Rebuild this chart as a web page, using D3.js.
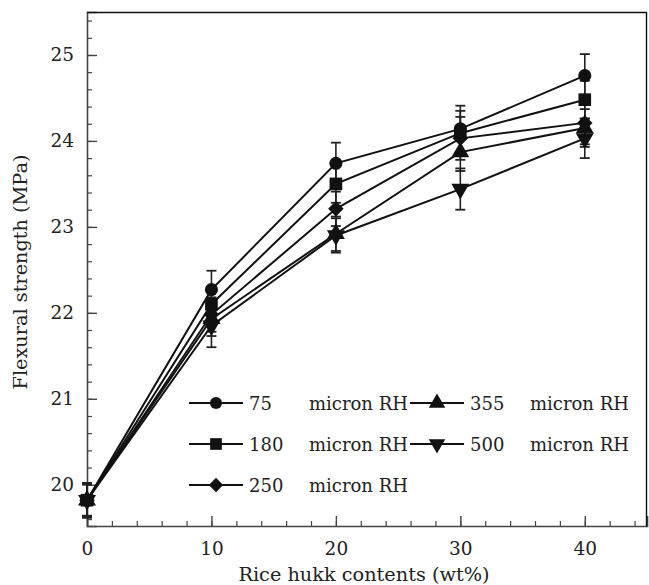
<!DOCTYPE html>
<html>
<head>
<meta charset="utf-8">
<script src="https://cdn.jsdelivr.net/npm/d3@7"></script>
<style>
  body { margin: 0; background: #fff; }
  text { font-family: "DejaVu Serif", serif; fill: #222; }
</style>
</head>
<body>
<div id="chart-area"></div>
<script>
// rice husk content (wt%)
var contents = [0, 10, 20, 30, 40];
var seriesNames = ["75", "180", "250", "355", "500"];
// flexural strength (MPa) per particle size
var s75  = [19.82, 22.27, 23.74, 24.14, 24.76];
var s180 = [19.82, 22.10, 23.50, 24.09, 24.48];
var s250 = [19.82, 21.98, 23.21, 24.03, 24.21];
var s355 = [19.82, 21.93, 22.92, 23.87, 24.15];
var s500 = [19.82, 21.85, 22.90, 23.44, 24.03];
// error bars (+/-)
var e75  = [0.20, 0.22, 0.24, 0.27, 0.25];
var e180 = [0.20, 0.20, 0.22, 0.26, 0.22];
var e250 = [0.20, 0.20, 0.20, 0.25, 0.25];
var e355 = [0.20, 0.20, 0.20, 0.22, 0.22];
var e500 = [0.18, 0.25, 0.20, 0.24, 0.23];
var xTicks = [0, 10, 20, 30, 40];
var yTicks = [20, 21, 22, 23, 24, 25];

var values = [s75, s180, s250, s355, s500];
var errors = [e75, e180, e250, e355, e500];
// diamond = square turned 45 degrees
var shapes = [d3.symbolCircle, d3.symbolSquare, d3.symbolSquare, d3.symbolTriangle, d3.symbolTriangle];
var sizes = [135, 160, 120, 140, 140];
var rotate = [0, 0, 45, 0, 180];

var series = seriesNames.map((n, i) => ({
    name: n,
    points: contents.map((c, j) => ({x: c, y: values[i][j], e: errors[i][j]})),
    shape: shapes[i], size: sizes[i], rot: rotate[i]
}));

var W = 649, H = 585;
var svg = d3.select("#chart-area").append("svg")
    .attr("width", W)
    .attr("height", H);

var x = d3.scaleLinear().domain([0, 45]).range([87, 647]);
var y = d3.scaleLinear().domain([19.52, 25.5]).range([526, 12]);

var axisColor = "#444";

// minor ticks
svg.append("g")
    .attr("transform", "translate(0,526)")
    .call(d3.axisBottom(x).tickValues(d3.range(2, 45, 2)).tickSize(-5).tickFormat(""))
    .call(g => g.select(".domain").remove())
    .selectAll("line").attr("stroke", axisColor).attr("stroke-width", 1.2);

svg.append("g")
    .attr("transform", "translate(87,0)")
    .call(d3.axisLeft(y).tickValues(d3.range(19.6, 25.45, 0.2)).tickSize(-5).tickFormat(""))
    .call(g => g.select(".domain").remove())
    .selectAll("line").attr("stroke", axisColor).attr("stroke-width", 1.2);

// major axes
var xAxis = svg.append("g")
    .attr("transform", "translate(0,526)")
    .call(d3.axisBottom(x).tickValues(xTicks).tickSize(-10).tickPadding(16).tickFormat(d3.format("d")));
xAxis.selectAll("text").attr("font-size", 18.5).style("font-family", "DejaVu Serif").attr("fill", "#222");

var yAxis = svg.append("g")
    .attr("transform", "translate(87,0)")
    .call(d3.axisLeft(y).tickValues(yTicks).tickSize(-10).tickPadding(13).tickFormat(d3.format("d")));
yAxis.selectAll("text").attr("font-size", 18.5).style("font-family", "DejaVu Serif").attr("fill", "#222");

[xAxis, yAxis].forEach(g => {
    g.select(".domain").attr("stroke", axisColor).attr("stroke-width", 1.6);
    g.selectAll(".tick line").attr("stroke", axisColor).attr("stroke-width", 1.4);
});

// frame top / right
svg.append("line").attr("x1", 87).attr("x2", 647).attr("y1", 12.5).attr("y2", 12.5)
    .attr("stroke", "#111").attr("stroke-width", 1.4);
svg.append("line").attr("x1", 646.5).attr("x2", 646.5).attr("y1", 12).attr("y2", 526)
    .attr("stroke", "#111").attr("stroke-width", 1.4);

// axis titles
svg.append("text")
    .attr("x", 364).attr("y", 581)
    .attr("text-anchor", "middle").attr("font-size", 19.3)
    .text("Rice hukk contents (wt%)");

svg.append("text")
    .attr("transform", "translate(27,272) rotate(-90)")
    .attr("text-anchor", "middle").attr("font-size", 19.3)
    .text("Flexural strength (MPa)");

var line = d3.line().x(d => x(d.x)).y(d => y(d.y));

// error bars
series.forEach(s => {
    var g = svg.append("g");
    s.points.forEach(p => {
        g.append("line").attr("x1", x(p.x)).attr("x2", x(p.x))
            .attr("y1", y(p.y + p.e)).attr("y2", y(p.y - p.e))
            .attr("stroke", "#222").attr("stroke-width", 1.6);
        [p.y + p.e, p.y - p.e].forEach(v => {
            g.append("line").attr("x1", x(p.x) - 5).attr("x2", x(p.x) + 5)
                .attr("y1", y(v)).attr("y2", y(v))
                .attr("stroke", "#222").attr("stroke-width", 1.8);
        });
    });
});

// lines + markers
series.forEach(s => {
    svg.append("path").datum(s.points)
        .attr("d", line)
        .attr("fill", "none")
        .attr("stroke", "#111")
        .attr("stroke-width", 2);
});
series.forEach(s => {
    svg.append("g").selectAll("path")
        .data(s.points)
        .enter()
        .append("path")
        .attr("d", d3.symbol().type(s.shape).size(s.size))
        .attr("transform", d => `translate(${x(d.x)},${y(d.y)}) rotate(${s.rot})`)
        .attr("fill", "#111");
});

// legend
var legendPos = [
    {col: 0, row: 0}, {col: 0, row: 1}, {col: 0, row: 2},
    {col: 1, row: 0}, {col: 1, row: 1}
];
var colX = [189, 410];
var rowY = [403, 444, 485];
series.forEach((s, i) => {
    var lx = colX[legendPos[i].col], ly = rowY[legendPos[i].row];
    var g = svg.append("g").attr("transform", `translate(${lx},${ly})`);
    g.append("line").attr("x1", 0).attr("x2", 54).attr("y1", 0).attr("y2", 0)
        .attr("stroke", "#111").attr("stroke-width", 2);
    g.append("path")
        .attr("d", d3.symbol().type(s.shape).size(s.size * 0.85))
        .attr("transform", `translate(27,0) rotate(${s.rot})`)
        .attr("fill", "#111");
    g.append("text").attr("x", 60).attr("y", 6.5).attr("font-size", 18).text(s.name);
    g.append("text").attr("x", 120).attr("y", 6.5).attr("font-size", 18).text("micron RH");
});
</script>
</body>
</html>
